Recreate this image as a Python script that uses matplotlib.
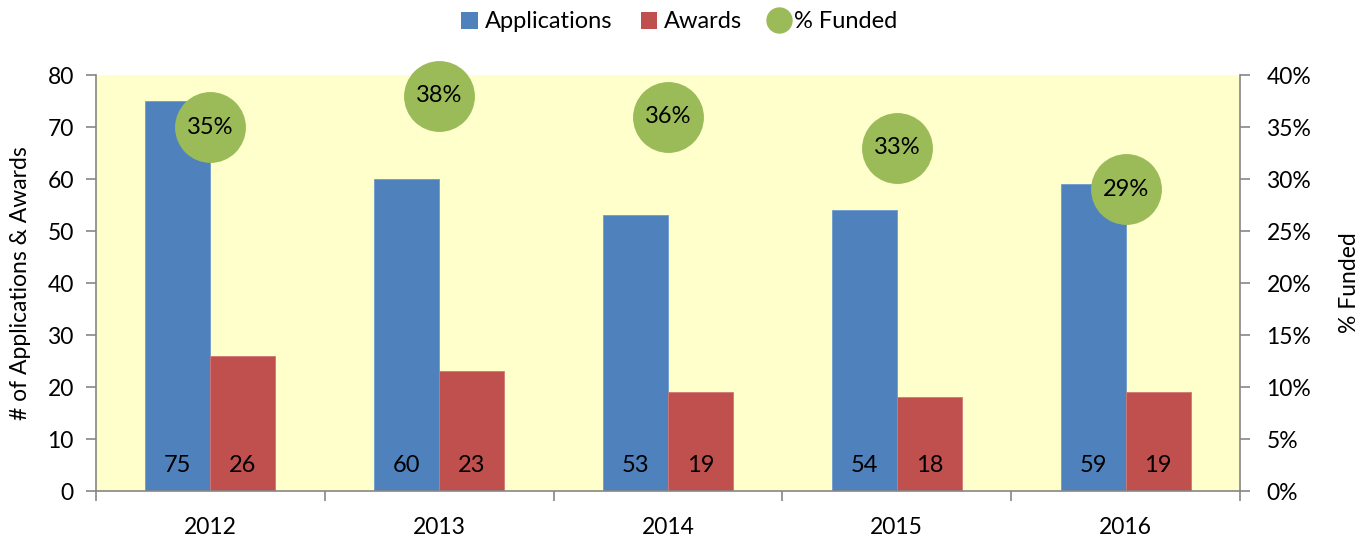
import matplotlib
matplotlib.use("Agg")
import matplotlib.pyplot as plt
import numpy as np
from matplotlib.ticker import PercentFormatter
from matplotlib.lines import Line2D
from matplotlib.patches import Patch

plt.rcParams['font.family'] = ['Lato', 'DejaVu Sans']

years = ["2012", "2013", "2014", "2015", "2016"]
applications = [75, 60, 53, 54, 59]
awards = [26, 23, 19, 18, 19]
pct_funded = [35, 38, 36, 33, 29]

blue = "#4F81BD"
red = "#C0504D"
green = "#9BBB59"
grey = "#868686"
fs = 16.5

fig = plt.figure(figsize=(13.59, 5.39), dpi=100)
ax = fig.add_axes([96 / 1359, 48 / 539, 1144 / 1359, 416 / 539])
ax.set_facecolor("#FFFFCC")

x = np.arange(len(years))
w = 0.284
ax.bar(x - w / 2, applications, w, color=blue, edgecolor="#6F9BCF", linewidth=0.6, zorder=2)
ax.bar(x + w / 2, awards, w, color=red, edgecolor="#D07875", linewidth=0.6, zorder=2)
for i in range(len(years)):
    ax.text(x[i] - w / 2, 5, str(applications[i]), ha="center", va="center", fontsize=17)
    ax.text(x[i] + w / 2, 5, str(awards[i]), ha="center", va="center", fontsize=17)

ax.set_xlim(-0.5, len(years) - 0.5)
ax.set_ylim(0, 80)
ax.set_yticks(range(0, 81, 10))
ax.set_xticks(x)
ax.set_xticklabels(years)
ax.set_xticks(np.arange(-0.5, len(years), 1), minor=True)
ax.tick_params(axis="x", which="major", length=0, pad=19, labelsize=fs)
ax.tick_params(axis="x", which="minor", length=7, color=grey, width=1.2)
ax.tick_params(axis="y", length=7, color=grey, width=1.2, labelsize=fs, pad=9)
ax.set_ylabel("# of Applications & Awards", fontsize=fs, labelpad=12)
for s in ["top", "right"]:
    ax.spines[s].set_visible(False)
for s in ["left", "bottom"]:
    ax.spines[s].set_color(grey)
    ax.spines[s].set_linewidth(1.2)

ax2 = ax.twinx()
ax2.set_ylim(0, 40)
ax2.set_yticks(range(0, 41, 5))
ax2.yaxis.set_major_formatter(PercentFormatter(decimals=0))
ax2.tick_params(axis="y", length=7, color=grey, width=1.2, labelsize=fs, pad=12)
ax2.set_ylabel("% Funded", fontsize=fs, labelpad=20)
for s in ["top", "left", "bottom"]:
    ax2.spines[s].set_visible(False)
ax2.spines["right"].set_color(grey)
ax2.spines["right"].set_linewidth(1.2)
ax2.scatter(x, pct_funded, s=2500, color=green, zorder=3, clip_on=False)
for i in range(len(years)):
    ax2.text(x[i], pct_funded[i], f"{pct_funded[i]}%", ha="center", va="center", fontsize=17)

handles = [
    Patch(facecolor=blue, label="Applications"),
    Patch(facecolor=red, label="Awards"),
    Line2D([], [], marker="o", linestyle="", markersize=18, markerfacecolor=green,
           markeredgecolor=green, label="% Funded"),
]
fig.legend(handles=handles, loc="center", bbox_to_anchor=(0.5, 1 - 22 / 539), ncol=3,
           frameon=False, fontsize=17, handlelength=0.7, handleheight=0.7,
           handletextpad=0.3, columnspacing=1.2)

fig.savefig("out.png", dpi=100)
